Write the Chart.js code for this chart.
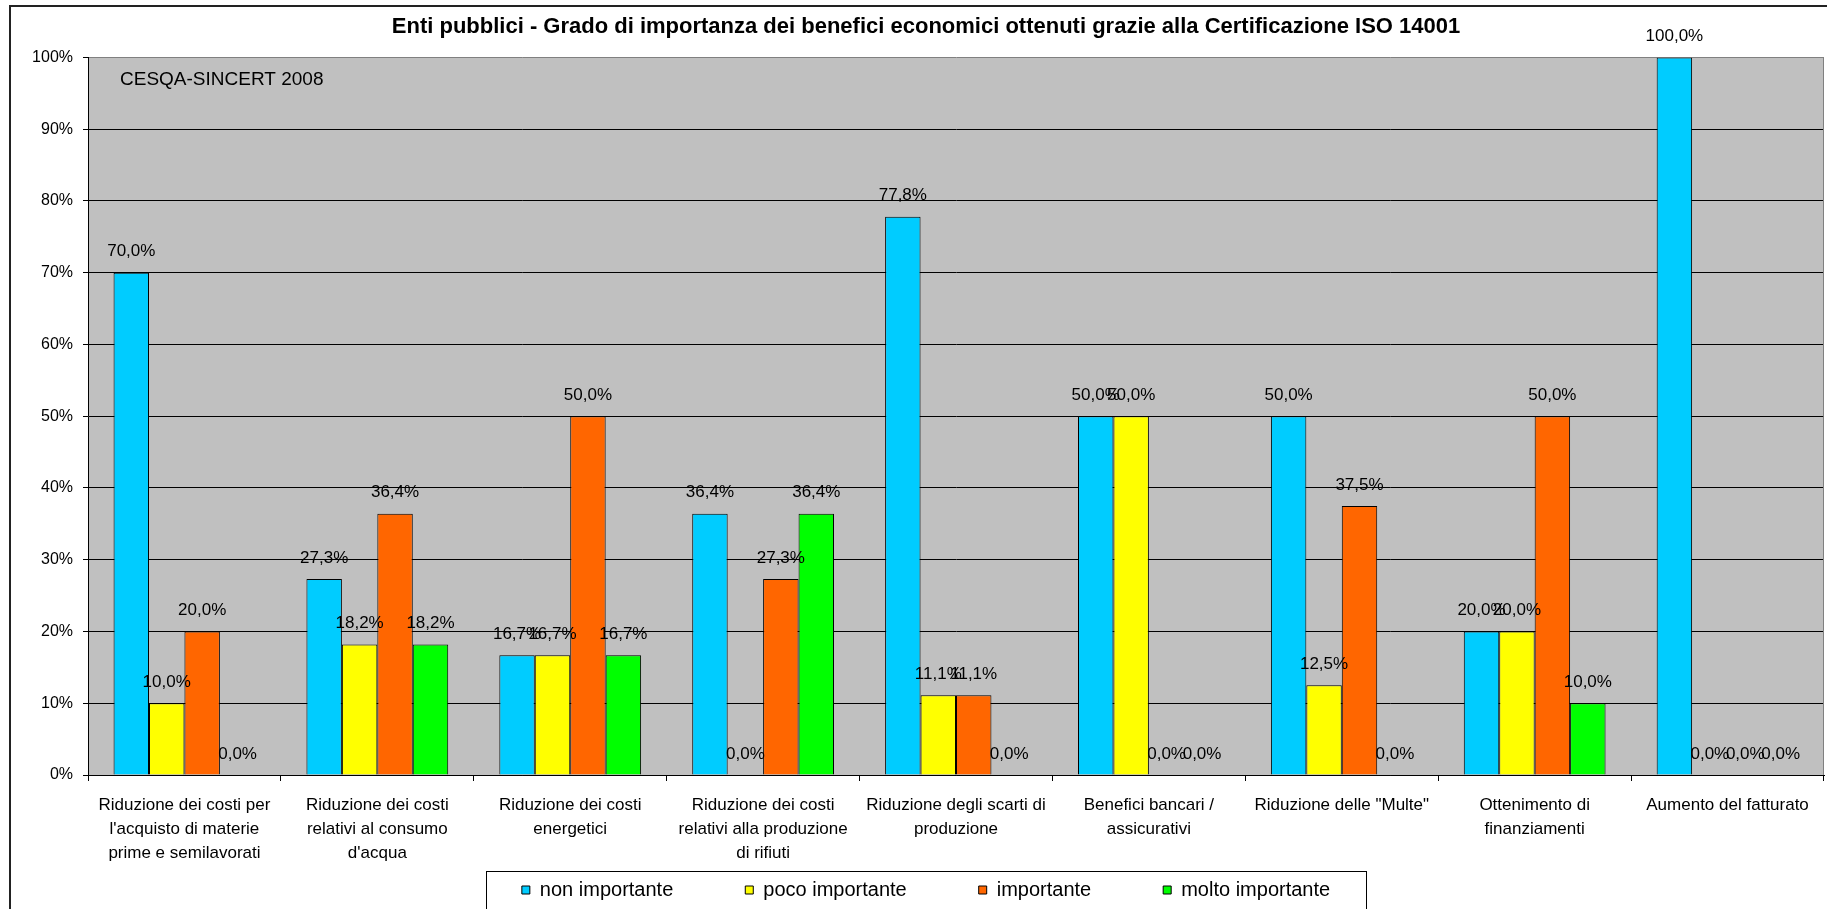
<!DOCTYPE html>
<html lang="it">
<head>
    <meta charset="UTF-8">
    <title>Enti pubblici - benefici economici ISO 14001</title>
    <script src="https://cdn.jsdelivr.net/npm/chart.js"></script>
    <style>
        body { margin: 0; background: #fff; }
        canvas { display: block; }
    </style>
</head>
<body>
    <canvas id="chart" width="1827" height="909"></canvas>

<script>
// categorie (asse x)
const categories = [
    ["Riduzione dei costi per", "l'acquisto di materie", "prime e semilavorati"],
    ["Riduzione dei costi", "relativi al consumo", "d'acqua"],
    ["Riduzione dei costi", "energetici"],
    ["Riduzione dei costi", "relativi alla produzione", "di rifiuti"],
    ["Riduzione degli scarti di", "produzione"],
    ["Benefici bancari /", "assicurativi"],
    ['Riduzione delle "Multe"'],
    ["Ottenimento di", "finanziamenti"],
    ["Aumento del fatturato"]
];

// valori in percentuale
const nonImportante   = [70.0, 27.3, 16.7, 36.4, 77.8, 50.0, 50.0, 20.0, 100.0];
const pocoImportante  = [10.0, 18.2, 16.7,  0.0, 11.1, 50.0, 12.5, 20.0,   0.0];
const importante      = [20.0, 36.4, 50.0, 27.3, 11.1,  0.0, 37.5, 50.0,   0.0];
const moltoImportante = [ 0.0, 18.2, 16.7, 36.4,  0.0,  0.0,  0.0, 10.0,   0.0];

const yTicks = [0, 10, 20, 30, 40, 50, 60, 70, 80, 90, 100];

const FONT = "'Liberation Sans', Arial, sans-serif";

// cornice esterna + sfondo grigio dell'area del grafico
const sfondo = {
    id: 'sfondo',
    afterLayout(chart) {
        // le etichette su tre righe dell'asse x scendono fin sopra la legenda
        const x = chart.scales.x;
        x.bottom = x.top + 96;
        // le etichette dell'asse y non vanno tagliate
        chart.scales.y.left = 0;
    },
    beforeDraw(chart) {
        const ctx = chart.ctx;
        const a = chart.chartArea;
        ctx.save();
        ctx.fillStyle = '#fff';
        ctx.fillRect(0, 0, chart.width, chart.height);
        ctx.strokeStyle = '#222';
        ctx.lineWidth = 2;
        ctx.strokeRect(10, 6, chart.width + 20, chart.height + 20);
        ctx.fillStyle = '#C0C0C0';
        ctx.fillRect(a.left, a.top, a.right - a.left, a.bottom - a.top);
        ctx.restore();
    },
    afterDraw(chart) {
        const ctx = chart.ctx;
        const a = chart.chartArea;
        ctx.save();
        // bordo destro area
        ctx.strokeStyle = '#808080';
        ctx.lineWidth = 1;
        ctx.beginPath();
        ctx.moveTo(a.right - 0.5, a.top);
        ctx.lineTo(a.right - 0.5, a.bottom);
        ctx.stroke();
        // scritta fonte
        ctx.fillStyle = '#000';
        ctx.font = '19px ' + FONT;
        ctx.textAlign = 'left';
        ctx.textBaseline = 'middle';
        ctx.fillText('CESQA-SINCERT 2008', a.left + 32, a.top + 22);
        // riquadro legenda
        const hb = chart.legend.legendHitBoxes;
        if (hb && hb.length) {
            const first = hb[0], last = hb[hb.length - 1];
            const l = Math.round(first.left - 36);
            const r = Math.round(last.left + last.width + 36);
            ctx.strokeStyle = '#000';
            ctx.lineWidth = 1;
            ctx.strokeRect(l + 0.5, Math.round(first.top - 9) + 0.5, r - l, 60);
        }
        ctx.restore();
    }
};

// etichette dei valori sopra le barre
const etichette = {
    id: 'etichette',
    afterDatasetsDraw(chart) {
        const ctx = chart.ctx;
        ctx.save();
        ctx.font = '17px ' + FONT;
        ctx.fillStyle = '#000';
        ctx.textAlign = 'center';
        ctx.textBaseline = 'middle';
        chart.data.datasets.forEach((ds, i) => {
            chart.getDatasetMeta(i).data.forEach((bar, j) => {
                const txt = ds.data[j].toFixed(1).replace('.', ',') + '%';
                ctx.fillText(txt, bar.x, bar.y - 21);
            });
        });
        ctx.restore();
    }
};

const ctx = document.getElementById('chart');
new Chart(ctx, {
    type: 'bar',
    data: {
        labels: categories,
        datasets: [
            { label: 'non importante',   data: nonImportante,   backgroundColor: '#00CCFF' },
            { label: 'poco importante',  data: pocoImportante,  backgroundColor: '#FFFF00' },
            { label: 'importante',       data: importante,      backgroundColor: '#FF6600' },
            { label: 'molto importante', data: moltoImportante, backgroundColor: '#00FF00' }
        ]
    },
    options: {
        responsive: false,
        animation: false,
        devicePixelRatio: 1,
        datasets: {
            bar: {
                borderColor: '#000',
                borderWidth: 1,
                categoryPercentage: 0.735,
                barPercentage: 1.0
            }
        },
        layout: { padding: { left: 28, right: 3, top: 0, bottom: -1 } },
        plugins: {
            title: {
                display: true,
                text: 'Enti pubblici - Grado di importanza dei benefici economici ottenuti grazie alla Certificazione ISO 14001',
                color: '#000',
                font: { family: FONT, size: 22, weight: 'bold', lineHeight: 1.2 },
                padding: { top: 14, bottom: 17 }
            },
            legend: {
                position: 'bottom',
                labels: {
                    color: '#000',
                    font: { family: FONT, size: 20 },
                    boxWidth: 8,
                    boxHeight: 8,
                    padding: 72
                }
            },
            tooltip: { enabled: false }
        },
        scales: {
            x: {
                grid: {
                    display: true,
                    drawOnChartArea: false,
                    drawTicks: true,
                    tickLength: 6,
                    color: '#000',
                    offset: true
                },
                border: { color: '#000', width: 1 },
                ticks: {
                    color: '#000',
                    font: { family: FONT, size: 17, lineHeight: '24px' },
                    padding: 12,
                    maxRotation: 0,
                    minRotation: 0,
                    autoSkip: false
                },
                afterFit(s) { s.height = 33; }
            },
            y: {
                min: 0,
                max: 100,
                afterBuildTicks(s) { s.ticks = yTicks.map(v => ({ value: v })); },
                grid: {
                    color: c => (c.tick && c.tick.value === 100 ? '#808080' : '#000'),
                    tickColor: '#000',
                    tickLength: 5,
                    lineWidth: 1
                },
                border: { color: '#000', width: 1 },
                ticks: {
                    color: '#000',
                    font: { family: FONT, size: 16 },
                    padding: 10,
                    callback: v => v + '%'
                },
                afterFit(s) { s.width = 60; }
            }
        }
    },
    plugins: [sfondo, etichette]
});
</script>
</body>
</html>
